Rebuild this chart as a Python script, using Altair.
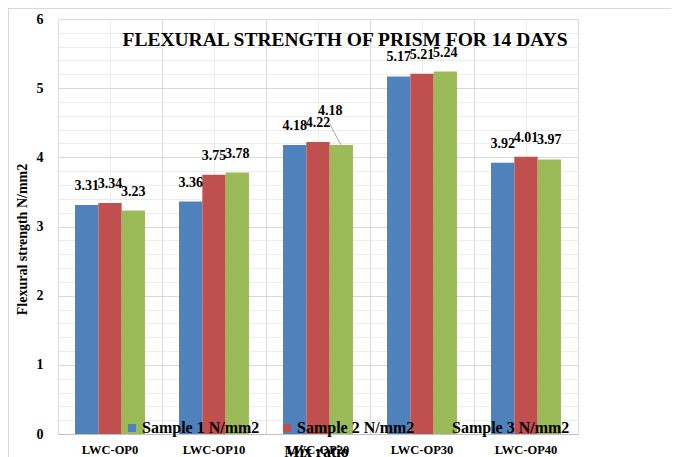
import altair as alt
import pandas as pd

FONT = "Liberation Serif"

mixes = ["LWC-OP0", "LWC-OP10", "LWC-OP20", "LWC-OP30", "LWC-OP40"]
samples = ["Sample 1 N/mm2", "Sample 2 N/mm2", "Sample 3 N/mm2"]
sample1 = [3.31, 3.36, 4.18, 5.17, 3.92]
sample2 = [3.34, 3.75, 4.22, 5.21, 4.01]
sample3 = [3.23, 3.78, 4.18, 5.24, 3.97]
colors = ["#4f81bd", "#c0504d", "#9bbb59"]
y_major = [0, 1, 2, 3, 4, 5, 6]
y_minor = [round(i * 0.2, 1) for i in range(31) if i % 5]
chart_title = "FLEXURAL STRENGTH OF PRISM FOR 14 DAYS"
moved_label = ("LWC-OP20", "Sample 3 N/mm2")

rows = []
for s, vals in zip(samples, [sample1, sample2, sample3]):
    for m, v in zip(mixes, vals):
        rows.append({"Mix": m, "Sample": s, "Value": v, "Label": f"{v:.2f}",
                     "Moved": (m, s) == moved_label})
df = pd.DataFrame(rows)

MAJOR = "#d9d9d9"
MINOR = "#ececec"

xscale = alt.Scale(domain=mixes, paddingInner=0, paddingOuter=0)
yscale = alt.Scale(domain=[0, 6], nice=False)
offscale = alt.Scale(domain=samples, paddingInner=0, paddingOuter=0.73)

base = alt.Chart(df)

bars = base.mark_bar().encode(
    x=alt.X("Mix:N", sort=mixes, scale=xscale,
            axis=alt.Axis(title="Mix ratio", labelAngle=0, labelFont=FONT, labelFontSize=12.5,
                          labelFontWeight="bold", labelColor="black", labelPadding=9,
                          ticks=False, tickSize=0, domain=True, domainColor="#bfbfbf",
                          grid=True, gridColor=MINOR, gridWidth=1,
                          titleFont=FONT, titleFontSize=16, titleFontWeight="bold",
                          titleColor="black", titleX=258, titleY=22,
                          titleBaseline="alphabetic")),
    xOffset=alt.XOffset("Sample:N", sort=samples, scale=offscale),
    y=alt.Y("Value:Q", scale=yscale,
            axis=alt.Axis(values=y_major, title="Flexural strength N/mm2",
                          titleFont=FONT, titleFontSize=14, titleFontWeight="bold",
                          titleColor="black", titleX=-32, titleY=220, titleAngle=270,
                          titleBaseline="alphabetic",
                          labelFont=FONT, labelFontSize=14, labelFontWeight="bold",
                          labelColor="black", labelPadding=15, ticks=False, tickSize=0,
                          domain=False, grid=True, gridColor=MAJOR, gridWidth=1)),
    color=alt.Color("Sample:N", sort=samples,
                    scale=alt.Scale(domain=samples, range=colors),
                    legend=alt.Legend(title=None, orient="none", legendX=66, legendY=401,
                                      direction="horizontal", symbolType="square",
                                      symbolSize=64, symbolStrokeWidth=0,
                                      labelFont=FONT, labelFontSize=16,
                                      labelFontWeight="bold", labelColor="black",
                                      labelOffset=2, columnPadding=19, padding=0,
                                      labelLimit=300)),
)

labels = base.transform_filter("!datum.Moved").mark_text(
    font=FONT, fontSize=14, fontWeight="bold", color="black",
    baseline="alphabetic", dy=-15
).encode(
    x=alt.X("Mix:N", sort=mixes, scale=xscale,
            axis=alt.Axis(title=None, labels=False, ticks=False, domain=False, orient="top",
                          grid=True, gridColor=MAJOR, gridWidth=1, bandPosition=0)),
    xOffset=alt.XOffset("Sample:N", sort=samples, scale=offscale),
    y=alt.Y("Value:Q", scale=yscale,
            axis=alt.Axis(values=y_minor, title=None, labels=False, ticks=False,
                          domain=False, orient="right", grid=True, gridColor=MINOR,
                          gridWidth=1)),
    text="Label:N",
)

moved = base.transform_filter("datum.Moved").mark_text(
    font=FONT, fontSize=14, fontWeight="bold", color="black",
    baseline="alphabetic", dy=-30, dx=-11
).encode(
    x=alt.X("Mix:N", sort=mixes, scale=xscale, axis=None),
    xOffset=alt.XOffset("Sample:N", sort=samples, scale=offscale),
    y=alt.Y("Value:Q", scale=yscale, axis=None),
    text="Label:N",
)

leader = base.transform_filter("datum.Moved").mark_rule(
    color="#a6a6a6", strokeWidth=1, xOffset=23, x2Offset=11, y2Offset=-22
).encode(
    x=alt.X("Mix:N", sort=mixes, scale=xscale, axis=None, bandPosition=0.5),
    x2=alt.X2("Mix:N", bandPosition=0.5),
    y=alt.Y("Value:Q", scale=yscale, axis=None),
    y2=alt.Y2("Value:Q"),
)

frame_top = alt.Chart(df).mark_rule(color=MAJOR, strokeWidth=1).encode(
    x=alt.value(-49.5), x2=alt.value(613), y=alt.value(-10.5)
)
frame_left = alt.Chart(df).mark_rule(color=MAJOR, strokeWidth=1).encode(
    x=alt.value(-49.5), y=alt.value(-10.5), y2=alt.value(440)
)

chart = alt.layer(bars, labels, moved, leader, frame_top, frame_left).resolve_axis(
    x="independent", y="independent"
).properties(
    width=520, height=415,
    title=alt.TitleParams(text=chart_title, font=FONT, fontSize=19.5, fontWeight="bold",
                          color="black", anchor="middle", frame="group", dx=27, dy=51,
                          baseline="middle", offset=0),
    autosize=alt.AutoSizeParams(type="none"),
    padding={"left": 50, "top": 11, "right": 93, "bottom": 24},
    background="white",
).configure_view(stroke=MAJOR, strokeWidth=1)

chart.save("out.html", embed_options={"renderer": "svg", "actions": False})
